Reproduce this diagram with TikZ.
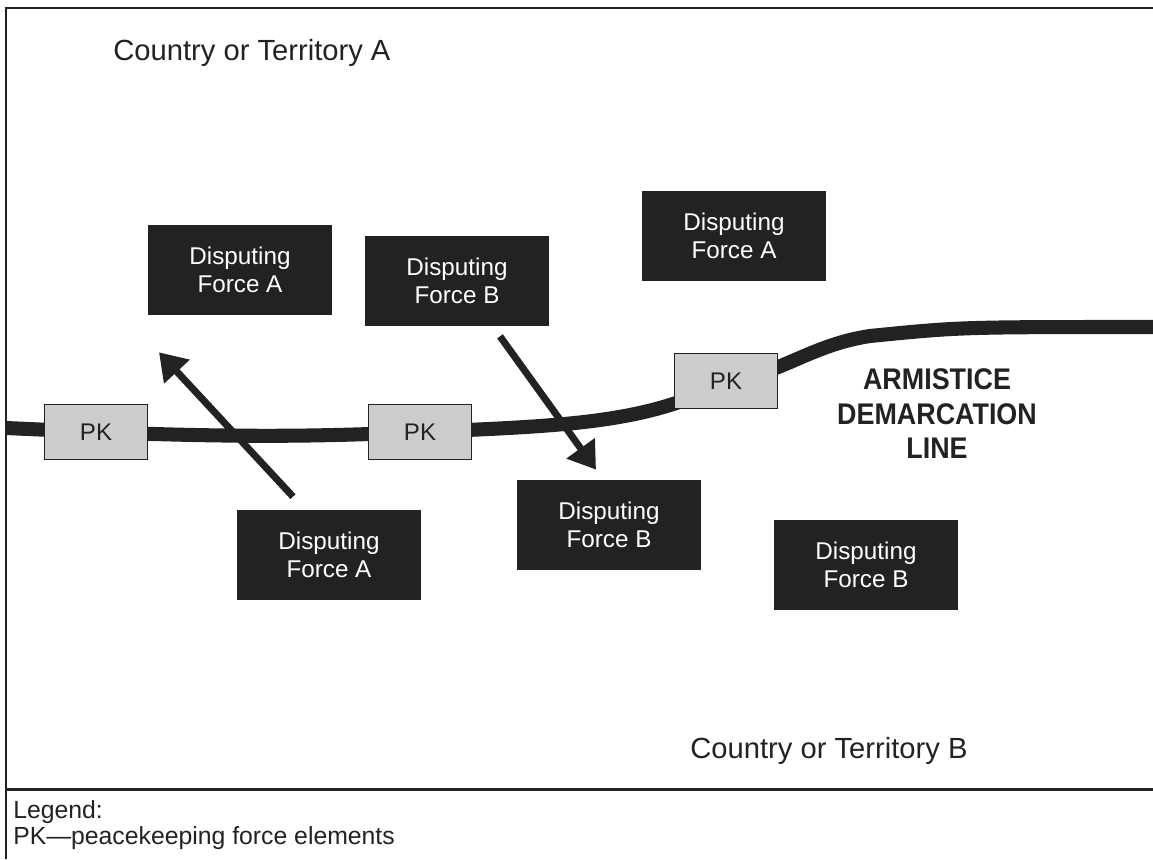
\documentclass[tikz,border=0pt]{standalone}
\usepackage{fontspec}
\setmainfont{Liberation Sans}
\newfontfamily\narrowbold[FakeStretch=0.9]{Liberation Sans Bold}
\usetikzlibrary{arrows.meta,backgrounds,calc}
\definecolor{darkbox}{HTML}{222222}
\definecolor{pkgray}{HTML}{CCCCCC}

\begin{document}
\begin{tikzpicture}
  [x=0.02cm,y=-0.02cm,
   force/.style={draw=none,fill=darkbox,text=white,minimum width=3.68cm,minimum height=1.8cm,align=center,font=\fontsize{13.8}{16}\selectfont},
   pk/.style={draw=darkbox,line width=1pt,fill=pkgray,text=darkbox,minimum width=2.06cm,minimum height=1.1cm,font=\fontsize{13.7}{16}\selectfont},
   region/.style={text=darkbox,inner sep=0pt,font=\fontsize{16.6}{19}\selectfont},
   legend/.style={text=darkbox,inner sep=0pt,anchor=west,font=\fontsize{14.1}{16}\selectfont},
   frame/.style={line width=1.7pt,darkbox},
   demline/.style={line width=8pt,darkbox},
   move/.style={line width=4pt,darkbox,-{Triangle[length=15pt,width=19pt]}}]

  \useasboundingbox (0,0) rectangle (1153,859);
  \draw[frame] (1153,8) -- (6,8) -- (6,859);
  \draw[frame] (6,789) -- (1153,789);

  \node[region,anchor=west] (terrA) at (113,53) {Country or Territory A};
  \node[region,anchor=west] (terrB) at (690,751) {Country or Territory B};

  \node[force] (dfa1) at (240,270) {Disputing\\Force A};
  \node[force] (dfb1) at (457,281) {Disputing\\Force B};
  \node[force] (dfa2) at (734,236) {Disputing\\Force A};
  \node[force] (dfa3) at (329,555) {Disputing\\Force A};
  \node[force] (dfb2) at (609,525) {Disputing\\Force B};
  \node[force] (dfb3) at (866,565) {Disputing\\Force B};

  \node[pk] (pk1) at (96,432) {PK};
  \node[pk] (pk2) at (420,432) {PK};
  \node[pk] (pk3) at (726,381) {PK};

  \node[text=darkbox,align=center,font=\narrowbold\fontsize{17}{19.6}\selectfont] (dml) at (937,414) {ARMISTICE\\DEMARCATION\\LINE};

  \node[legend] (leg1) at (13,812) {Legend:};
  \node[legend] (leg2) at (13,838) {PK—peacekeeping force elements};

  \coordinate (lw) at (6,428);
  \coordinate (le) at (1153,327);
  \begin{scope}[on background layer]
    \draw[demline] (lw) -- (pk1.center) .. controls (250,438) and (330,436) .. (pk2.center)
      .. controls (560,426) and (650,424) .. (pk3.center)
      .. controls (780,375) and (810,345) .. (870,336) .. controls (960,327) .. (le);
  \end{scope}

  \coordinate (a1s) at ($(dfa3.north)+(-36,-13)$);
  \coordinate (a1e) at ($(dfa1.south)+(-81,37)$);
  \coordinate (a2s) at ($(dfb1.south)+(43,10)$);
  \coordinate (a2e) at ($(dfb2.north)+(-13,-10)$);
  \draw[move] (a1s) -- (a1e);
  \draw[move] (a2s) -- (a2e);

\end{tikzpicture}
\end{document}
